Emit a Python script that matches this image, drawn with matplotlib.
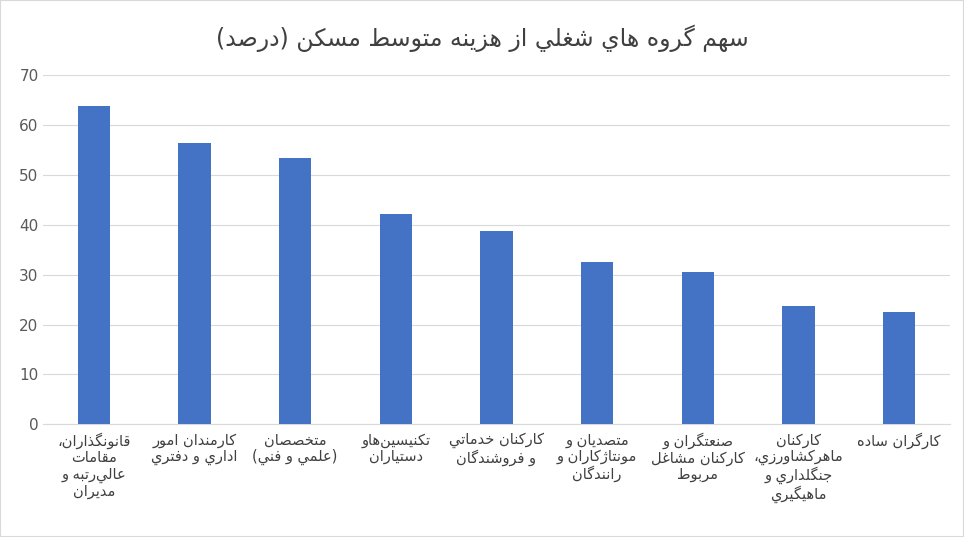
import matplotlib.pyplot as plt

# values
labels = [
    "قانونگذاران،\nمقامات\nعالي‌رتبه و\nمديران",
    "كارمندان امور\nاداري و دفتري",
    "متخصصان\n(علمي و فني)",
    "تكنيسين‌هاو\nدستياران",
    "كاركنان خدماتي\nو فروشندگان",
    "متصديان و\nمونتاژكاران و\nرانندگان",
    "صنعتگران و\nكاركنان مشاغل\nمربوط",
    "كاركنان\nماهركشاورزي،\nجنگلداري و\nماهيگيري",
    "كارگران ساده",
]
values = [63.9, 56.3, 53.4, 42.2, 38.7, 32.6, 30.5, 23.8, 22.6]
title = "سهم گروه های شغلی از هزینه متوسط مسکن (درصد)"

# minimal arabic shaping: isolated, final, initial, medial
forms = {
    'ا': (0xFE8D, 0xFE8E), 'د': (0xFEA9, 0xFEAA), 'ذ': (0xFEAB, 0xFEAC),
    'ر': (0xFEAD, 0xFEAE), 'ز': (0xFEAF, 0xFEB0), 'ژ': (0xFB8A, 0xFB8B),
    'و': (0xFEED, 0xFEEE),
}
dual = {'ب': 0xFE8F, 'ت': 0xFE95, 'ث': 0xFE99, 'ج': 0xFE9D, 'ح': 0xFEA1,
        'خ': 0xFEA5, 'س': 0xFEB1, 'ش': 0xFEB5, 'ص': 0xFEB9, 'ض': 0xFEBD,
        'ط': 0xFEC1, 'ظ': 0xFEC5, 'ع': 0xFEC9, 'غ': 0xFECD, 'ف': 0xFED1,
        'ق': 0xFED5, 'ك': 0xFED9, 'ک': 0xFED9, 'ل': 0xFEDD, 'م': 0xFEE1,
        'ن': 0xFEE5, 'ه': 0xFEE9, 'ي': 0xFEF1, 'ی': 0xFEF1, 'ئ': 0xFE89,
        'گ': 0xFB92, 'پ': 0xFB56}
for k, b in dual.items():
    forms[k] = (b, b + 1, b + 2, b + 3)


def shape(line):
    out = []
    n = len(line)
    for i, c in enumerate(line):
        if c not in forms:
            if c != '\u200c':
                out.append({'(': ')', ')': '('}.get(c, c))
            continue
        p = line[i - 1] if i > 0 else ''
        nx = line[i + 1] if i + 1 < n else ''
        prev_j = p in forms and len(forms[p]) == 4
        next_j = len(forms[c]) == 4 and nx in forms
        f = forms[c]
        if prev_j and next_j:
            g = f[3]
        elif next_j:
            g = f[2]
        elif prev_j:
            g = f[1]
        else:
            g = f[0]
        out.append(chr(g))
    return ''.join(out[::-1])


def fa(s):
    return '\n'.join(shape(l) for l in s.split('\n'))


plt.rcParams['font.family'] = ['DejaVu Sans']
fig, ax = plt.subplots(figsize=(9.64, 5.37), dpi=100)
fig.subplots_adjust(left=0.045, right=0.985, top=0.86, bottom=0.21)
x = range(len(values))
ax.bar(x, values, width=0.32, color='#4472C4', zorder=3)
ax.set_xticks(list(x))
ax.set_xticklabels([fa(l) for l in labels], fontsize=10.5, color='#404040', linespacing=1.1)
ax.set_ylim(0, 70)
ax.set_yticks(range(0, 71, 10))
ax.tick_params(axis='y', labelsize=11, labelcolor='#595959', length=0)
ax.tick_params(axis='x', length=0, pad=6)
ax.grid(axis='y', color='#D9D9D9', zorder=0)
for s in ['top', 'right', 'left']:
    ax.spines[s].set_visible(False)
ax.spines['bottom'].set_color('#D9D9D9')
ax.set_xlim(-0.5, len(values) - 0.5)
fig.suptitle(fa(title), fontsize=17, color='#404040', y=0.955)
fig.patches.append(plt.Rectangle((0, 0), 1, 1, transform=fig.transFigure,
                                 fill=False, edgecolor='#D9D9D9', lw=1.5))
fig.savefig('out.png')
